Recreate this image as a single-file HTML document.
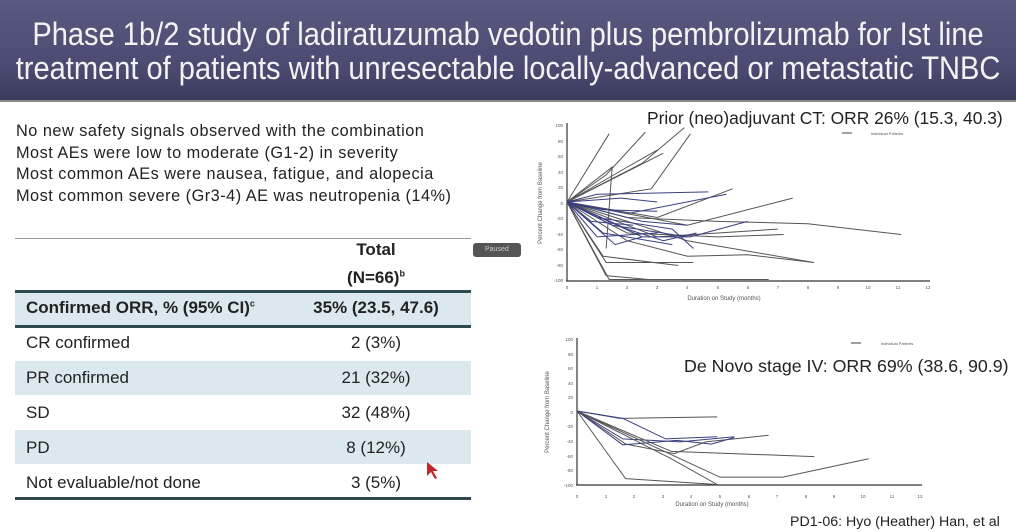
<!DOCTYPE html>
<html><head><meta charset="utf-8">
<style>
body{margin:0;width:1016px;height:532px;overflow:hidden;background:#fff;font-family:"Liberation Sans",sans-serif;position:relative}
.hdr{position:absolute;left:0;top:0;width:1016px;height:100px;background:linear-gradient(#5a5a80,#4a4a70 70%,#3a3a5c);border-bottom:2px solid #888;overflow:hidden}
.hdr div{position:absolute;left:-100px;width:1216px;text-align:center;color:#f2f2f2;font-size:32px;transform:scaleX(0.908);transform-origin:608px 0;white-space:nowrap}
.bul{position:absolute;left:16px;top:121px;font-size:16.3px;line-height:21.7px;color:#222;letter-spacing:0.5px;white-space:nowrap}
.t{position:absolute;font-size:17px;color:#222;white-space:nowrap}
.v{position:absolute;font-size:17px;color:#222;width:200px;left:276px;text-align:center}
.row{position:absolute;left:15px;width:456px;background:#dbe8ee}
.ln{position:absolute;left:15px;width:456px;background:#2e4a4e}
</style></head><body>
<div class="hdr"><div style="top:16px">Phase 1b/2 study of ladiratuzumab vedotin plus pembrolizumab for Ist line</div><div style="top:50px">treatment of patients with unresectable locally-advanced or metastatic TNBC</div></div>
<div class="bul">No new safety signals observed with the combination<br>Most AEs were low to moderate (G1-2) in severity<br>Most common AEs were nausea, fatigue, and alopecia<br>Most common severe (Gr3-4) AE was neutropenia (14%)</div>
<div class="ln" style="top:238px;height:1px;background:#999"></div>
<div class="v" style="top:240px;font-weight:bold">Total</div>
<div class="v" style="top:268px;font-weight:bold">(N=66)<sup style="font-size:9px">b</sup></div>
<div class="row" style="top:292px;height:34px"></div>
<div class="ln" style="top:290px;height:3px"></div>
<div class="ln" style="top:325px;height:3px"></div>
<div class="row" style="top:361px;height:34px"></div>
<div class="row" style="top:430px;height:34px"></div>
<div class="ln" style="top:497px;height:3px"></div>
<div class="t" style="left:26px;top:298px;font-weight:bold">Confirmed ORR, % (95% CI)<sup style="font-size:9px">c</sup></div>
<div class="v" style="top:298px;font-weight:bold">35% (23.5, 47.6)</div>
<div class="t" style="left:26px;top:333px">CR confirmed</div><div class="v" style="top:333px">2 (3%)</div>
<div class="t" style="left:26px;top:368px">PR confirmed</div><div class="v" style="top:368px">21 (32%)</div>
<div class="t" style="left:26px;top:403px">SD</div><div class="v" style="top:403px">32 (48%)</div>
<div class="t" style="left:26px;top:438px">PD</div><div class="v" style="top:438px">8 (12%)</div>
<div class="t" style="left:26px;top:473px">Not evaluable/not done</div><div class="v" style="top:473px">3 (5%)</div>
<div style="position:absolute;left:473px;top:243px;width:48px;height:14px;background:#555;border-radius:3px;color:#ccc;font-size:7px;line-height:14px;padding-left:12px;box-sizing:border-box">Paused</div>
<svg style="position:absolute;left:426px;top:461px" width="14" height="20"><path d="M1,1 L1,15 L5,11 L9,18 L11,17 L7,10 L12,10 Z" fill="#c0282a"/></svg>
<svg style="position:absolute;left:0;top:0" width="1016" height="532">
<g font-family="Liberation Sans" fill="#555" font-size="4.5" text-anchor="end">
<text x="563" y="127">100</text><text x="563" y="143">80</text><text x="563" y="158">60</text><text x="563" y="174">40</text><text x="563" y="189">20</text><text x="563" y="205">0</text><text x="563" y="220">-20</text><text x="563" y="236">-40</text><text x="563" y="251">-60</text><text x="563" y="267">-80</text><text x="563" y="282">-100</text>
<text x="573" y="341">100</text><text x="573" y="356">80</text><text x="573" y="370">60</text><text x="573" y="385">40</text><text x="573" y="399">20</text><text x="573" y="414">0</text><text x="573" y="428">-20</text><text x="573" y="443">-40</text><text x="573" y="458">-60</text><text x="573" y="472">-80</text><text x="573" y="487">-100</text>
</g>
<g font-family="Liberation Sans" fill="#555" font-size="4.5" text-anchor="middle">
<text x="567" y="289">0</text><text x="597" y="289">1</text><text x="627" y="289">2</text><text x="657" y="289">3</text><text x="687" y="289">4</text><text x="718" y="289">5</text><text x="748" y="289">6</text><text x="778" y="289">7</text><text x="808" y="289">8</text><text x="838" y="289">9</text><text x="868" y="289">10</text><text x="898" y="289">11</text><text x="928" y="289">12</text>
<text x="577" y="498">0</text><text x="606" y="498">1</text><text x="634" y="498">2</text><text x="663" y="498">3</text><text x="691" y="498">4</text><text x="720" y="498">5</text><text x="749" y="498">6</text><text x="777" y="498">7</text><text x="806" y="498">8</text><text x="834" y="498">9</text><text x="863" y="498">10</text><text x="892" y="498">11</text><text x="920" y="498">12</text>
<text x="724" y="300" font-size="6">Duration on Study (months)</text>
<text x="712" y="506" font-size="6">Duration on Study (months)</text>
<text x="887" y="135" font-size="4">Individual Patients</text>
<text x="897" y="345" font-size="4">Individual Patients</text>
<text font-size="6" transform="translate(542,203) rotate(-90)">Percent Change from Baseline</text>
<text font-size="6" transform="translate(549,412) rotate(-90)">Percent Change from Baseline</text>
</g>
<line x1="842" y1="133" x2="852" y2="133" stroke="#444"/><line x1="851" y1="343" x2="861" y2="343" stroke="#444"/>
<g stroke="#333" stroke-width="1.2"><line x1="567" y1="123" x2="567" y2="281"/><line x1="566" y1="281" x2="930" y2="281"/>
<line x1="577" y1="338" x2="577" y2="485"/><line x1="576" y1="485" x2="922" y2="485"/></g>
<text x="647" y="124" font-family="Liberation Sans" font-size="17.4" fill="#222">Prior (neo)adjuvant CT: ORR 26% (15.3, 40.3)</text>
<text x="684" y="372" font-family="Liberation Sans" font-size="17.8" fill="#222">De Novo stage IV: ORR 69% (38.6, 90.9)</text>
<text x="790" y="526" font-family="Liberation Sans" font-size="14.2" fill="#222">PD1-06: Hyo (Heather) Han, et al</text>
<g transform="translate(567,202) scale(30.1,-0.775)" fill="none" stroke="#555">
<g stroke="#555"><polyline vector-effect="non-scaling-stroke" points="0,0 1.4,88"/><polyline vector-effect="non-scaling-stroke" points="0,0 1.3,35 2.6,90"/><polyline vector-effect="non-scaling-stroke" points="0,0 2,45 3,67"/><polyline vector-effect="non-scaling-stroke" points="0,0 2.5,50 3.9,96"/><polyline vector-effect="non-scaling-stroke" points="0,0 2.8,17 4.1,88"/><polyline vector-effect="non-scaling-stroke" points="0,0 3.2,63"/><polyline vector-effect="non-scaling-stroke" points="0,0 1.5,45 1.3,-60"/>
<polyline vector-effect="non-scaling-stroke" points="0,0 2,-20 5,-25 8,-28 11.1,-42"/><polyline vector-effect="non-scaling-stroke" points="0,0 2,-50 4,-70 6,-68 8.2,-78"/><polyline vector-effect="non-scaling-stroke" points="0,0 4,-50 8.2,-78"/><polyline vector-effect="non-scaling-stroke" points="0,0 1.4,-100 6.7,-100"/><polyline vector-effect="non-scaling-stroke" points="0,0 1.3,-95 2.7,-100"/><polyline vector-effect="non-scaling-stroke" points="0,0 2,-40 5,-45 7.2,-42"/><polyline vector-effect="non-scaling-stroke" points="0,0 3,-45 7,-35"/><polyline vector-effect="non-scaling-stroke" points="0,0 4,-30 7.5,5"/><polyline vector-effect="non-scaling-stroke" points="0,0 3,-20 5.5,17"/><polyline vector-effect="non-scaling-stroke" points="0,0 1.3,-78 4.2,-78"/><polyline vector-effect="non-scaling-stroke" points="0,0 1.2,-70 3.7,-82"/></g>
<g stroke="#3a3f80"><polyline vector-effect="non-scaling-stroke" points="0,0 1,10 4.7,13"/><polyline vector-effect="non-scaling-stroke" points="0,0 2,-15 5.3,10"/><polyline vector-effect="non-scaling-stroke" points="0,0 1.5,-30 4,-45"/><polyline vector-effect="non-scaling-stroke" points="0,0 1.2,-40 3.5,-55"/><polyline vector-effect="non-scaling-stroke" points="0,0 1,-20 3.5,-35 4.2,-60"/><polyline vector-effect="non-scaling-stroke" points="0,0 2.5,-25 4,-30"/><polyline vector-effect="non-scaling-stroke" points="0,0 1.8,5 3,0"/><polyline vector-effect="non-scaling-stroke" points="0,0 1,-45 3,-40"/><polyline vector-effect="non-scaling-stroke" points="0,0 1.6,-55 2.5,-45"/><polyline vector-effect="non-scaling-stroke" points="0,0 2,-35 3.2,-50 4.3,-40"/><polyline vector-effect="non-scaling-stroke" points="0,0 0.8,-25 2.2,-30"/><polyline vector-effect="non-scaling-stroke" points="0,0 1.2,-10 3,-12"/><polyline vector-effect="non-scaling-stroke" points="0,0 2.5,-45 4.1,-45 6,-25"/></g>
</g>
<g transform="translate(577,411) scale(28.6,-0.735)" fill="none" stroke="#555">
<polyline vector-effect="non-scaling-stroke" points="0,0 1.5,-10 4.9,-8"/><polyline vector-effect="non-scaling-stroke" stroke="#3a3f80" points="0,0 1.6,-10 3.1,-38 4.9,-35"/><polyline vector-effect="non-scaling-stroke" stroke="#3a3f80" points="0,0 1.6,-38 3.6,-42 5.5,-35"/><polyline vector-effect="non-scaling-stroke" points="0,0 3.3,-55 8.3,-62"/><polyline vector-effect="non-scaling-stroke" points="0,0 1.7,-92 4.9,-100"/><polyline vector-effect="non-scaling-stroke" points="0,0 3.3,-65 4.9,-100"/><polyline vector-effect="non-scaling-stroke" points="0,0 5,-90 7.2,-90 10.2,-65"/><polyline vector-effect="non-scaling-stroke" points="0,0 1.7,-45 3.4,-58 4.5,-42 6.7,-33"/><polyline vector-effect="non-scaling-stroke" stroke="#3a3f80" points="0,0 1.6,-46 3.5,-40 4.7,-45 5.5,-36"/></g>
</svg>
</body></html>
